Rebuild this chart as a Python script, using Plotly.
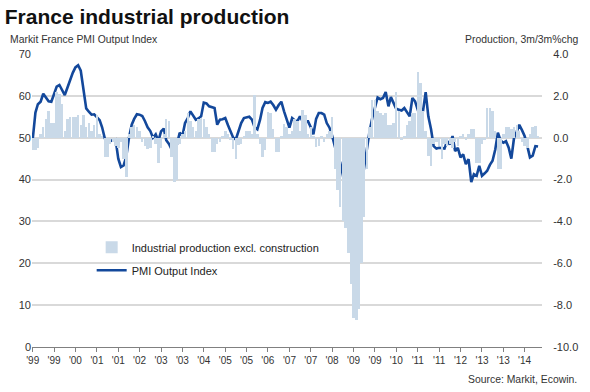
import plotly.graph_objects as go
import pandas as pd

# Markit France PMI Output Index, monthly from Jan 1999
pmi = [49.6, 56, 58, 58.6, 60.5, 59.5, 58.7, 58.6, 60.5, 62.2, 62.6, 61.5,
       60.2, 62, 63.8, 65.5, 66.8, 67.3, 66, 62, 57, 56.2, 55.5, 55.6,
       55, 54.2, 52.5, 49.8, 49.4, 49.2, 49.4, 49.6, 45, 43, 43.4, 45.5,
       50, 53.1, 54.5, 55.6, 55.5, 55.2, 54, 52.5, 51.6, 50, 50.8, 49.2,
       51.5, 52.2, 49.4, 48.5, 47.2, 47.8, 48.4, 51.2, 50.4, 53.5, 54.7, 56.3,
       55.2, 54.3, 54.6, 55.1, 58.4, 58.2, 57.5, 57.3, 57.1, 53.1, 54.3, 54.4,
       54.7, 53, 51.5, 50, 49.6, 51.8, 53.5, 54.7, 54.8, 55, 54.3, 52.5,
       52, 54.3, 57.1, 58.5, 58.3, 58.6, 57.8, 56.7, 57.8, 58.6, 56.3, 54.5,
       52.4, 54.7, 54.2, 53.9, 55.1, 53.9, 53.9, 53.9, 52.5, 50.8, 54.5, 55.9,
       55.9, 55.5, 53.5, 52.4, 50.5, 48, 45.5, 44.1, 41, 37, 33.5, 32,
       36.4, 30.5, 34.5, 38.5, 43.5, 48.4, 51.5, 54.7, 57.5, 59.6, 59.2, 59.5,
       60.9, 57.5, 59.7, 58.4, 56.9, 56.7, 56.5, 57.1, 56, 55.1, 59.5, 58.7,
       56.7, 57.1, 56.3, 60.9, 55.1, 52, 48, 47.4, 47.6, 47.5, 47.4, 49.2,
       48.4, 50.4, 46.8, 47.6, 45.3, 46, 43.7, 44.9, 39.4, 41.3, 40.9, 43.3,
       40.9, 41.5, 42.1, 43.5, 44.5, 47.2, 51.2, 49.3, 48.8, 49.2, 47.6, 45,
       50, 51.5, 53.1, 51.8, 50.4, 48, 45.3, 45.7, 48, 47.9]

# Industrial production excl. construction, 3m/3m % change
ip = [-0.6, -0.6, -0.5, 0.2, 0.5, 0.9, 1.3, 0.7, 0.7, 2.2, 2.1, 1.6,
      0.3, 0.9, 1.0, 1.0, 1.0, 1.1, 0.6, 1.1, 0.5, 0.7, 0.3, 0.6,
      1.1, 0.2, 0.1, -0.9, -0.9, -0.3, -0.2, -0.4, -0.5, -0.2, -1.0, -1.9,
      0.2, 0.5, 0.6, 0.5, 0.3, -0.2, -0.4, -0.55, -0.5, 0.1, -0.3, -1.2,
      -0.5, 0.2, 0.9, 0.8, -0.9, -2.1, -2.0, -0.3, 0.2, 0.3, 1.2, 0.8,
      0.5, 0.3, 0.9, 0.95, 0.9, 0.5, 0.2, -0.7, -0.7, -0.3, -0.2, 0.1,
      0.3, 0.2, -0.1, -0.55, -1.0, -0.35, -0.3, 0.1, 0.3, 0.3, 0.2, 2.05,
      0.2, -0.3, -0.93, -0.6, 1.25, 1.2, 0.4, -0.7, -0.7, 0.1, 0.65, 0.5,
      0.2, 0.3, 0.9, 0.8, 0.3, 1.34, 1.1, 0.2, 0.5, 0.1, -0.46, -0.4,
      0.1, -0.2, 0.2, 0.3, 1.0, -1.5, -2.5, -3.3, -4.0, -4.3, -5.5, -7.0,
      -8.6, -8.7, -8.2, -6.0, -3.8, -1.5, 0.5, 1.8, 1.8, 1.3, 1.2, 1.1,
      1.2, 0.6, 0.6, 0.7, 2.2, 1.3, -0.1, 0.1, 0.6, 0.8, 1.2, 1.2,
      3.15, 2.6, 1.3, 0.3, -0.87, -1.34, -0.3, -0.2, -0.4, -1.0, -0.3, -0.4,
      -0.3, -0.5, -0.2, -0.4, 0.1, 0.2, -0.1, 0.2, 0.4, 0.4, -1.2, -1.2,
      -0.3, -0.1, 1.42, 1.4, 1.3, 0.3, -1.5, -1.5, 0.2, 0.5, 0.5, 0.4,
      0.5, 0.6, 0.3, -0.2, -0.4, -0.5, 0.2, 0.5, 0.55, 0.1]

months = pd.date_range("1999-01-01", periods=len(pmi), freq="MS")

tick_dates = pd.date_range("1999-01-01", "2014-05-01", freq="8MS")
tick_text = ["'99", "'99", "'00", "'01", "'01", "'02", "'03", "'03", "'04", "'05",
             "'05", "'06", "'07", "'07", "'08", "'09", "'09", "'10", "'11", "'11",
             "'12", "'13", "'13", "'14"]

right_vals = [4, 2, 0, -2, -4, -6, -8, -10]
right_text = ["4.0", "2.0", "0.0", "-2.0", "-4.0", "-6.0", "-8.0", "-10.0"]

font = "Liberation Sans, Arial, sans-serif"

fig = go.Figure()
fig.add_trace(go.Bar(
    x=months, y=ip, yaxis="y2", name="Industrial production excl. construction",
    marker=dict(color="#c9d9e8", line=dict(width=0)), legendgroup="a"))
fig.add_trace(go.Scatter(
    x=months, y=pmi, mode="lines", name="PMI Output Index",
    line=dict(color="#13489b", width=2.6), legendgroup="b"))

fig.update_layout(
    width=590, height=392,
    margin=dict(l=32, r=45, t=54, b=45),
    paper_bgcolor="white", plot_bgcolor="white",
    font=dict(family=font, size=11, color="#333333"),
    bargap=0,
    showlegend=True,
    legend=dict(x=0.117, y=0.39, xanchor="left", yanchor="top",
                bgcolor="rgba(0,0,0,0)", font=dict(size=11, color="#222222"),
                tracegroupgap=4, itemwidth=30),
    title=dict(text="<b>France industrial production</b>", xref="container",
               x=0.008, xanchor="left", yref="container", y=0.958, yanchor="middle",
               font=dict(family=font, size=21, color="#111111")),
    xaxis=dict(type="date", range=["1998-12-24", "2014-11-15"],
               tickvals=tick_dates, ticktext=tick_text, tickangle=0,
               showgrid=False, showline=True, linecolor="#808080", linewidth=1,
               ticks="outside", ticklen=4, tickcolor="#808080",
               tickfont=dict(size=10, color="#333333"), zeroline=False),
    yaxis=dict(range=[0, 70], dtick=10, showgrid=True, gridcolor="#d9d9d9",
               gridwidth=1.6, zeroline=False, showline=False, ticks="",
               tickfont=dict(size=11, color="#333333")),
    yaxis2=dict(range=[-10, 4], overlaying="y", side="right",
                tickvals=right_vals, ticktext=right_text, showgrid=False,
                zeroline=False, showline=False, ticks="outside", ticklen=8,
                tickcolor="rgba(0,0,0,0)",
                tickfont=dict(size=11, color="#333333")),
    annotations=[
        dict(text="Markit France PMI Output Index", xref="paper", yref="paper",
             x=-0.047, y=1.05, xanchor="left", yanchor="middle", showarrow=False,
             font=dict(size=10.4, color="#333333")),
        dict(text="Production, 3m/3m%chg", xref="paper", yref="paper",
             x=1.074, y=1.05, xanchor="right", yanchor="middle", showarrow=False,
             font=dict(size=10.4, color="#333333")),
        dict(text="Source: Markit, Ecowin.", xref="paper", yref="paper",
             x=1.072, y=-0.112, xanchor="right", yanchor="middle", showarrow=False,
             font=dict(size=10.4, color="#333333")),
    ],
)

fig.write_html("out.html", config={"displayModeBar": False},
               post_script="document.body.style.margin='0';document.body.style.padding='0';")
